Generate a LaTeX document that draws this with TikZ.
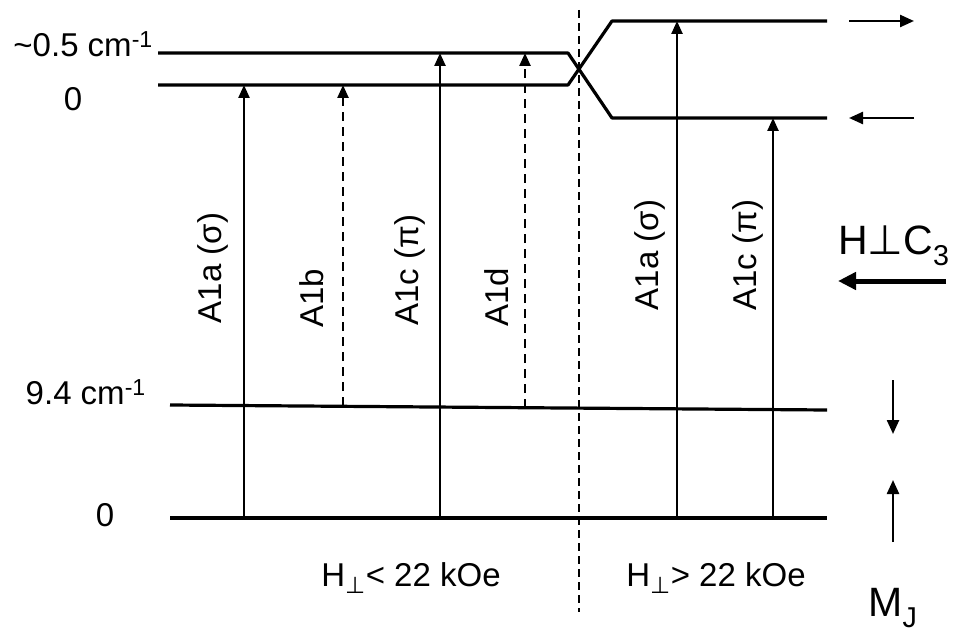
\documentclass[tikz,border=0pt]{standalone}
\usepackage{fontspec}
\setmainfont{Liberation Sans}
\newfontfamily\dejavu{DejaVu Sans}
\usetikzlibrary{arrows.meta}
\begin{document}
\begin{tikzpicture}[x=1pt,y=-1pt,
  level/.style={line width=3.2pt},
  trans/.style={line width=2.4pt,-{Triangle[length=13pt,width=11pt]}},
  dtrans/.style={trans,dash pattern=on 9pt off 6pt},
  spin/.style={line width=2.4pt,-{Triangle[length=14pt,width=12pt]}},
  lab/.style={font=\fontsize{33}{35}\selectfont,inner sep=0pt},
  rlab/.style={lab,rotate=90},
  big/.style={font=\fontsize{41}{43}\selectfont,inner sep=0pt}]
\useasboundingbox (0,0) rectangle (958,639);
% upper levels
\coordinate (aL) at (158,53);  \coordinate (aK) at (568,53);
\coordinate (aM) at (612,118); \coordinate (aR) at (827,118);
\coordinate (bL) at (158,85);  \coordinate (bK) at (568,85);
\coordinate (bM) at (612,21);  \coordinate (bR) at (827,21);
\draw[level,line join=round] (aL) -- (aK) -- (aM) -- (aR);
\draw[level,line join=round] (bL) -- (bK) -- (bM) -- (bR);
% lower levels
\coordinate (eL) at (170,405); \coordinate (eR) at (827,410);
\coordinate (gL) at (170,518); \coordinate (gR) at (827,518);
\draw[level] (eL) -- (eR);
\draw[level] (gL) -- (gR);
% divider
\coordinate (dT) at (579,10); \coordinate (dB) at (579,612);
\draw[line width=1.4pt,dash pattern=on 8pt off 5pt] (dT) -- (dB);
% transitions
\coordinate (t1s) at (244,518); \coordinate (t1e) at (244,85);
\coordinate (t2s) at (343,406); \coordinate (t2e) at (343,85);
\coordinate (t3s) at (440,518); \coordinate (t3e) at (440,53);
\coordinate (t4s) at (525,408); \coordinate (t4e) at (525,53);
\coordinate (t5s) at (677,518); \coordinate (t5e) at (677,21);
\coordinate (t6s) at (773,518); \coordinate (t6e) at (773,118);
\draw[trans] (t1s) -- (t1e);
\draw[dtrans] (t2s) -- (t2e);
\draw[trans] (t3s) -- (t3e);
\draw[dtrans] (t4s) -- (t4e);
\draw[trans] (t5s) -- (t5e);
\draw[trans] (t6s) -- (t6e);
% transition labels
\node[rlab] (l1) at (213,268) {A1a (σ)};
\node[rlab] (l2) at (312,298) {A1b};
\node[rlab] (l3) at (410,270) {A1c (π)};
\node[rlab] (l4) at (497,297) {A1d};
\node[rlab] (l5) at (650,255) {A1a (σ)};
\node[rlab] (l6) at (748,255) {A1c (π)};
% energy labels
\node[lab,anchor=east] (e1) at (153,44) {\char"7E 0.5 cm\textsuperscript{-1}};
\node[lab] (e2) at (73,99) {0};
\node[lab,anchor=east] (e3) at (146,392) {9.4 cm\textsuperscript{-1}};
\node[lab] (e4) at (105,515) {0};
% field region labels
\node[lab] (f1) at (411,578) {H\textsubscript{\dejavu ⊥}< 22 kOe};
\node[lab] (f2) at (716,578) {H\textsubscript{\dejavu ⊥}> 22 kOe};
% spin arrows
\coordinate (s1a) at (849,21);  \coordinate (s1b) at (914,21);
\coordinate (s2a) at (914,118); \coordinate (s2b) at (849,118);
\draw[spin] (s1a) -- (s1b);
\draw[spin] (s2a) -- (s2b);
\coordinate (s3a) at (893,380); \coordinate (s3b) at (893,434);
\coordinate (s4a) at (893,542); \coordinate (s4b) at (893,480);
\draw[spin] (s3a) -- (s3b);
\draw[spin] (s4a) -- (s4b);
% field direction
\node[big,anchor=west] (h) at (838,246) {H{\dejavu ⊥}C\textsubscript{3}};
\coordinate (ha) at (946,281); \coordinate (hb) at (838,281);
\draw[line width=5pt,-{Triangle[length=18pt,width=17pt]}] (ha) -- (hb);
\node[big] (mj) at (893,608) {M\textsubscript{J}};
\end{tikzpicture}
\end{document}
